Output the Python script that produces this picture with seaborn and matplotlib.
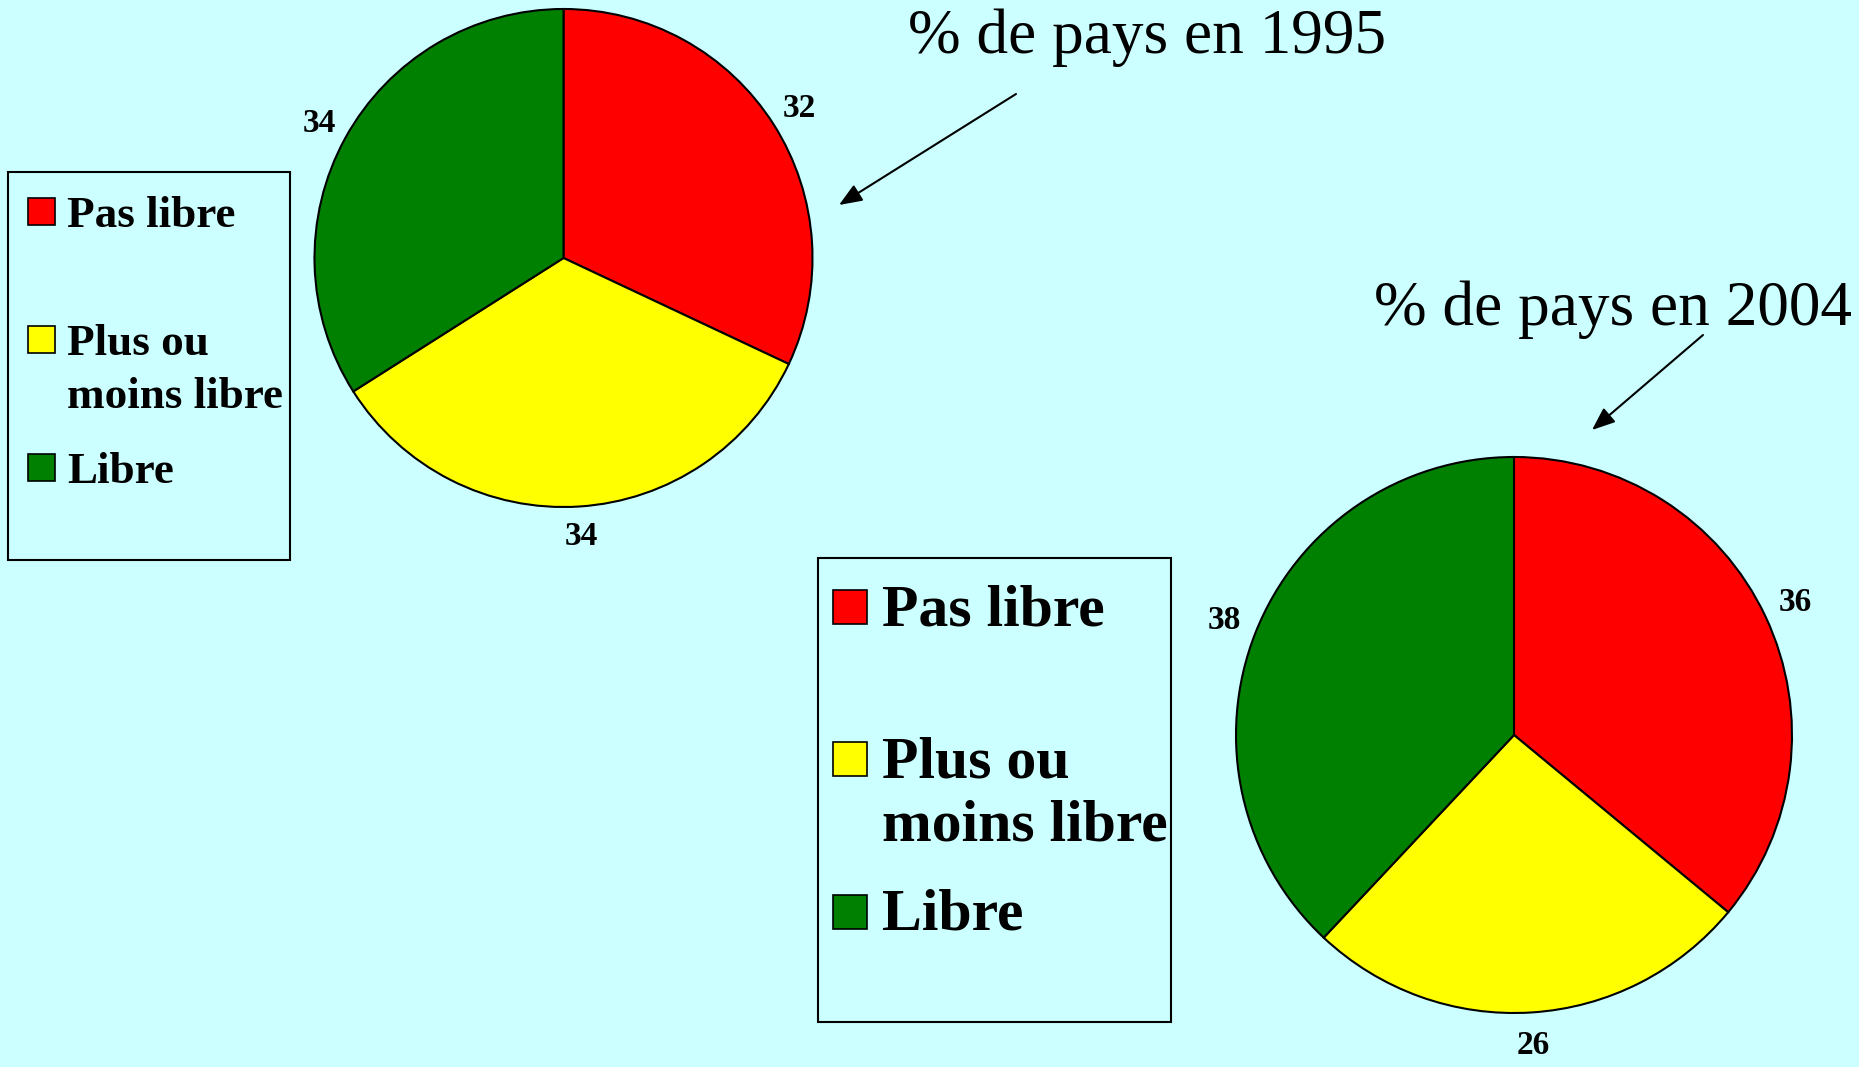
import numpy as np
import matplotlib
matplotlib.use("Agg")
import matplotlib.pyplot as plt
from matplotlib.patches import Rectangle
import seaborn as sns

# ================================
# Data
# ================================
categories = ["Pas libre", "Plus ou\nmoins libre", "Libre"]
colors = ["#FF0000", "#FFFF00", "#008000"]
pct_1995 = [32, 34, 34]
pct_2004 = [36, 26, 38]
titles = ["% de pays en 1995", "% de pays en 2004"]

# ================================
# Style
# ================================
sns.set_style("white")
plt.rcParams["font.family"] = ["Liberation Serif", "DejaVu Serif"]
plt.rcParams["text.color"] = "black"
BG = "#CCFFFF"
W, H = 1859, 1067

fig = plt.figure(figsize=(W / 100, H / 100), dpi=100, facecolor=BG)

# overlay axes in pixel coordinates for legends, titles, arrows
ov = fig.add_axes([0, 0, 1, 1])
ov.set_xlim(0, W)
ov.set_ylim(H, 0)
ov.axis("off")


def pie_axes(cx, cy, r, pad=1.2):
    size = 2 * pad * r
    ax = fig.add_axes([(cx - pad * r) / W, 1 - (cy + pad * r) / H, size / W, size / H])
    ax.set_xlim(-pad, pad)
    ax.set_ylim(-pad, pad)
    return ax


def draw_pie(ax, values):
    wedges, texts = ax.pie(values, colors=colors, startangle=90, counterclock=False,
                           labels=[str(v) for v in values], labeldistance=1.12,
                           wedgeprops=dict(edgecolor="black", linewidth=1.5),
                           textprops=dict(fontsize=24, fontweight="bold", color="black"))
    for t in texts:
        t.set_ha("center")
        t.set_va("center")
    ax.set_xlim(-1.2, 1.2)
    ax.set_ylim(-1.2, 1.2)
    ax.set_aspect("equal")
    ax.axis("off")


def draw_legend(box, x_patch, x_text, base0, step, line_gap, psize, fs):
    x0, y0, x1, y1 = box
    ov.add_patch(Rectangle((x0, y0), x1 - x0, y1 - y0, facecolor=BG, edgecolor="black", lw=1.5))
    for i, (lab, c) in enumerate(zip(categories, colors)):
        base = base0 + i * step
        ov.add_patch(Rectangle((x_patch, base - 1.5 - psize), psize, psize,
                               facecolor=c, edgecolor="black", lw=1.2))
        for j, line in enumerate(lab.split("\n")):
            ov.text(x_text, base + j * line_gap, line, fontsize=fs, fontweight="bold",
                    ha="left", va="baseline", color="black")


# Pie 1995
ax1 = pie_axes(563.5, 258, 249)
draw_pie(ax1, pct_1995)

# Pie 2004
ax2 = pie_axes(1514, 735, 278)
draw_pie(ax2, pct_2004)

# Legends
draw_legend((8.3, 171.7, 290, 560), 28, 67, 226.7, 128, 53.7, 27, 32.5)
draw_legend((818, 558, 1171, 1022), 833, 882, 625, 152.5, 63.3, 34, 43)

# Titles and arrows
ov.text(1147.5, 53, titles[0], fontsize=45.5, ha="center", va="baseline", color="black")
ov.text(1613, 325, titles[1], fontsize=45.5, ha="center", va="baseline", color="black")

arrow = dict(arrowstyle="-|>,head_length=0.7,head_width=0.28", color="black", lw=1.5,
             mutation_scale=20, shrinkA=0, shrinkB=0)
ov.annotate("", xy=(839, 205), xytext=(1016, 94), arrowprops=arrow)
ov.annotate("", xy=(1592, 430), xytext=(1703, 335), arrowprops=arrow)

fig.savefig("out.png", dpi=100, facecolor=BG)
